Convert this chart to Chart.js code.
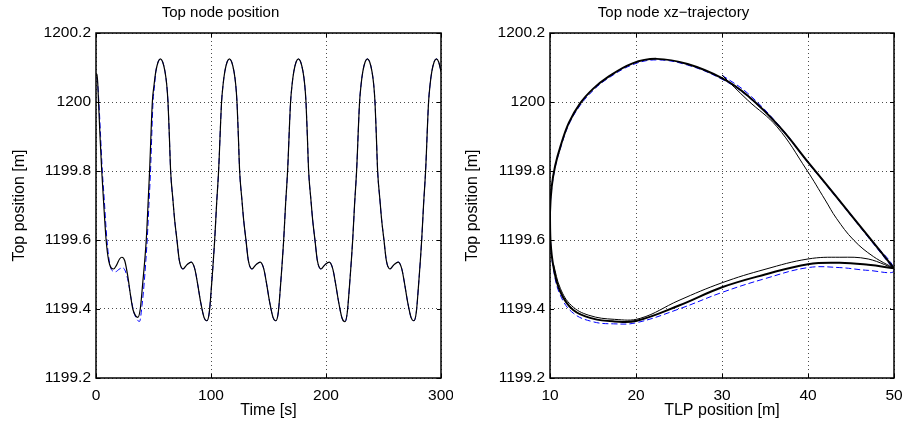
<!DOCTYPE html>
<html>
<head>
<meta charset="utf-8">
<script src="https://cdn.jsdelivr.net/npm/chart.js@4"></script>
<style>
  body { margin: 0; background: #fff; }
  #wrap { position: relative; width: 907px; height: 431px; }
  #wrap canvas { position: absolute; top: 0; }
</style>
</head>
<body>
<div id="wrap">
  <canvas id="posicao" width="453" height="431" style="left:0px"></canvas>
  <canvas id="trajetoria" width="454" height="431" style="left:453px"></canvas>
</div>
<script>
//Ticks dos eixos
const yTicks = [1199.2, 1199.4, 1199.6, 1199.8, 1200, 1200.2]
const timeTicks = [0, 100, 200, 300]
const tlpTicks = [10, 20, 30, 40, 50]

//Top node position - simulado (linha preta)
const timeS = [0, 1, 2.2, 3.5, 5, 6.5, 8.8, 11, 13, 15.2, 18, 20.5, 22.5, 25, 27.7, 30, 32, 34.5, 36.4, 38.5, 40.5, 43.7, 45.2, 46.6, 49, 50.5, 52, 54, 56,
    58, 60, 61.5, 62.6, 63.8, 64.9, 66.9, 68.4, 70.4, 72.5, 75.6, 79, 82.9, 86, 88.5, 91, 94, 96.5, 98.5, 100.5, 103.2, 104.8, 106.6, 109.2, 110.5, 112, 114, 116,
    118, 120, 121.5, 122.6, 123.8, 124.9, 126.9, 128.4, 130.4, 132.5, 135.6, 139, 142.9, 146, 148.5, 151, 154, 156.5, 158.5, 160.5, 163.2, 164.8, 166.6, 169.2, 170.5, 172, 174, 176,
    178, 180, 181.5, 182.6, 183.8, 184.9, 186.9, 188.4, 190.4, 192.5, 195.6, 199, 202.9, 206, 208.5, 211, 214, 216.5, 218.5, 220.5, 223.2, 224.8, 226.6, 229.2, 230.5, 232, 234, 236,
    238, 240, 241.5, 242.6, 243.8, 244.9, 246.9, 248.4, 250.4, 252.5, 255.6, 259, 262.9, 266, 268.5, 271, 274, 276.5, 278.5, 280.5, 283.2, 284.8, 286.6, 289.2, 290.5, 292, 294, 296,
    298, 300]
const topZ = [1200.075, 1200.08, 1200.0, 1199.9, 1199.8, 1199.716, 1199.6, 1199.54, 1199.52, 1199.516, 1199.528, 1199.545, 1199.55, 1199.54, 1199.494, 1199.44, 1199.40, 1199.38, 1199.376, 1199.40, 1199.47, 1199.6, 1199.7, 1199.8, 1200.0, 1200.05, 1200.088, 1200.116, 1200.125,
    1200.116, 1200.088, 1200.05, 1200.0, 1199.9, 1199.8, 1199.716, 1199.658, 1199.6, 1199.54, 1199.516, 1199.528, 1199.536, 1199.515, 1199.47, 1199.42, 1199.375, 1199.366, 1199.39, 1199.47, 1199.6, 1199.7, 1199.8, 1200.0, 1200.05, 1200.088, 1200.116, 1200.125,
    1200.116, 1200.088, 1200.05, 1200.0, 1199.9, 1199.8, 1199.716, 1199.658, 1199.6, 1199.54, 1199.516, 1199.528, 1199.536, 1199.515, 1199.47, 1199.42, 1199.375, 1199.366, 1199.39, 1199.47, 1199.6, 1199.7, 1199.8, 1200.0, 1200.05, 1200.088, 1200.116, 1200.125,
    1200.116, 1200.088, 1200.05, 1200.0, 1199.9, 1199.8, 1199.716, 1199.658, 1199.6, 1199.54, 1199.516, 1199.528, 1199.536, 1199.515, 1199.47, 1199.42, 1199.373, 1199.363, 1199.39, 1199.47, 1199.6, 1199.7, 1199.8, 1200.0, 1200.05, 1200.088, 1200.116, 1200.125,
    1200.116, 1200.088, 1200.05, 1200.0, 1199.9, 1199.8, 1199.716, 1199.658, 1199.6, 1199.54, 1199.516, 1199.528, 1199.536, 1199.515, 1199.47, 1199.42, 1199.375, 1199.366, 1199.39, 1199.47, 1199.6, 1199.7, 1199.8, 1200.0, 1200.05, 1200.088, 1200.116, 1200.125,
    1200.116, 1200.088]

//Referência (tracejado azul) - só o início difere, depois de t=52 é igual à preta
const refTimeS = [0, 1, 2.5, 4, 5.5, 7.2, 9.5, 12, 14.5, 17, 20, 23, 25.5, 28, 30.5, 33, 36, 37.9, 40, 42, 44.5, 46, 47.4, 49.6, 51]
const refTopZ = [1200.07, 1200.065, 1200.0, 1199.9, 1199.8, 1199.716, 1199.6, 1199.53, 1199.51, 1199.508, 1199.515, 1199.52, 1199.51, 1199.48, 1199.43, 1199.39, 1199.368, 1199.364, 1199.41, 1199.48, 1199.6, 1199.7, 1199.8, 1200.0, 1200.05]

//Trajetória xz - ciclo permanente (preto grosso)
const loopX = [50, 47, 43.7, 40, 35, 30, 25, 20.1, 17.5, 15, 12.7, 11.2, 10.4, 10.05, 10, 10.2, 10.6, 11.2, 12.2, 13.5, 15, 16.6, 19.6, 22.4, 26, 30, 33, 36.7, 40, 43.5, 47, 50]
const loopZ = [1199.518, 1199.528, 1199.534, 1199.53, 1199.5, 1199.463, 1199.41, 1199.366, 1199.364, 1199.372, 1199.397, 1199.45, 1199.523, 1199.6, 1199.68, 1199.755, 1199.815, 1199.87, 1199.94, 1199.996, 1200.038, 1200.07, 1200.112, 1200.125, 1200.11, 1200.069, 1200.018, 1199.928, 1199.826, 1199.719, 1199.611, 1199.518]

//Transiente inicial (preto fino)
const transX = [30, 33, 36.4, 39.85, 42, 43.3, 45.3, 47.6, 50, 47, 43.7, 40, 35, 30, 25, 20.5, 17.5, 14.5, 12.5, 11.2, 10.4]
const transZ = [1200.078, 1200.005, 1199.928, 1199.803, 1199.716, 1199.663, 1199.6, 1199.552, 1199.518, 1199.545, 1199.55, 1199.545, 1199.515, 1199.476, 1199.425, 1199.373, 1199.37, 1199.382, 1199.41, 1199.46, 1199.53]

//Referência xz (tracejado azul)
const refX = [30, 33, 36.7, 40, 43.5, 47, 50, 47, 43.7, 40, 35, 30, 25, 20, 17.4, 15, 12.7, 11.2, 10.4, 10.05, 10, 10.2, 10.6, 11.2, 12.2, 13.5, 15, 16.6, 19.6, 22.4, 26, 30, 33, 36.7, 40, 43.5, 47, 50]
const refZ = [1200.078, 1200.025, 1199.93, 1199.826, 1199.72, 1199.61, 1199.512, 1199.512, 1199.52, 1199.52, 1199.488, 1199.448, 1199.4, 1199.36, 1199.357, 1199.363, 1199.388, 1199.44, 1199.515, 1199.6, 1199.68, 1199.75, 1199.81, 1199.865, 1199.935, 1199.99, 1200.033, 1200.066, 1200.108, 1200.122, 1200.107, 1200.066, 1200.016, 1199.926, 1199.824, 1199.717, 1199.608, 1199.514]

const pares = (xs, ys) => xs.map((v, i) => ({ x: v, y: ys[i] }))

const fonte = "'Liberation Sans', Arial, Helvetica, sans-serif"
Chart.defaults.font.family = fonte
Chart.defaults.color = '#000'

//Moldura + marcas de tick para dentro (estilo matlab)
const moldura = {
    id: 'moldura',
    afterDatasetsDraw(chart) {
        const { ctx, chartArea: a, scales } = chart
        ctx.save()
        ctx.strokeStyle = '#000'
        ctx.lineWidth = 1
        scales.x.ticks.forEach(t => {
            const px = Math.round(scales.x.getPixelForValue(t.value)) + 0.5
            ctx.beginPath()
            ctx.moveTo(px, a.bottom); ctx.lineTo(px, a.bottom - 4)
            ctx.moveTo(px, a.top); ctx.lineTo(px, a.top + 4)
            ctx.stroke()
        })
        scales.y.ticks.forEach(t => {
            const py = Math.round(scales.y.getPixelForValue(t.value)) + 0.5
            ctx.beginPath()
            ctx.moveTo(a.left, py); ctx.lineTo(a.left + 4, py)
            ctx.moveTo(a.right, py); ctx.lineTo(a.right - 4, py)
            ctx.stroke()
        })
        ctx.lineWidth = 1.5
        ctx.strokeRect(a.left, a.top, a.right - a.left, a.bottom - a.top)
        ctx.restore()
    }
}

function eixos(xTicks, xMin, xMax, xTitulo, yLargura) {
    const grade = { color: 'rgba(0,0,0,0.7)', lineWidth: 1, drawTicks: false }
    return {
        x: {
            type: 'linear', min: xMin, max: xMax,
            grid: grade,
            border: { display: false, dash: [1, 3] },
            afterBuildTicks: s => { s.ticks = xTicks.map(v => ({ value: v })) },
            afterFit: s => { s.height = 53; s.paddingLeft = 0; s.paddingRight = 0 },
            ticks: { padding: 8, maxRotation: 0, font: { size: 15.5 }, callback: v => String(v) },
            title: { display: true, text: xTitulo, font: { size: 16 }, padding: { top: 0, bottom: 11 } }
        },
        y: {
            type: 'linear', min: 1199.2, max: 1200.2,
            grid: grade,
            border: { display: false, dash: [1, 3] },
            afterBuildTicks: s => { s.ticks = yTicks.map(v => ({ value: v })) },
            afterFit: s => { s.width = yLargura; s.paddingTop = 0; s.paddingBottom = 0 },
            ticks: { padding: 5, font: { size: 15.5 }, callback: v => String(Number(v.toFixed(1))) },
            title: { display: true, text: 'Top position [m]', font: { size: 16 }, padding: { top: 10, bottom: 0 } }
        }
    }
}

function titulo(texto) {
    return { display: true, text: texto, color: '#000', font: { size: 15, weight: 'normal' }, padding: { top: 4, bottom: 11 } }
}

//Gráfico da esquerda - posição no tempo
const ctxPos = document.getElementById('posicao')
const graficoPos = new Chart(ctxPos, {
    type: 'line',
    data: {
        datasets: [{
            data: pares(timeS, topZ),
            borderColor: '#000',
            borderWidth: 1.2,
            pointRadius: 0,
            cubicInterpolationMode: 'monotone'
        }, {
            data: pares(refTimeS, refTopZ).concat(pares(timeS, topZ).filter(p => p.x >= 52)),
            borderColor: '#0000ff',
            borderWidth: 1,
            borderDash: [6, 3],
            pointRadius: 0,
            cubicInterpolationMode: 'monotone'
        }]
    },
    options: {
        responsive: false,
        animation: false,
        layout: { padding: { left: 0, right: 12, top: 0, bottom: 0 } },
        plugins: { legend: { display: false }, tooltip: { enabled: false }, title: titulo('Top node position') },
        scales: eixos(timeTicks, 0, 300, 'Time [s]', 96)
    },
    plugins: [moldura]
})

//Gráfico da direita - trajetória xz
const ctxTraj = document.getElementById('trajetoria')
const graficoTraj = new Chart(ctxTraj, {
    type: 'scatter',
    data: {
        datasets: [{
            data: pares(loopX, loopZ),
            showLine: true,
            borderColor: '#000',
            borderWidth: 2,
            pointRadius: 0,
            tension: 0.4
        }, {
            data: pares(transX, transZ),
            showLine: true,
            borderColor: '#000',
            borderWidth: 1,
            pointRadius: 0,
            tension: 0.4
        }, {
            data: pares(refX, refZ),
            showLine: true,
            borderColor: '#0000ff',
            borderWidth: 1,
            borderDash: [6, 3],
            pointRadius: 0,
            tension: 0.4
        }]
    },
    options: {
        responsive: false,
        animation: false,
        layout: { padding: { left: 0, right: 13, top: 0, bottom: 0 } },
        plugins: { legend: { display: false }, tooltip: { enabled: false }, title: titulo('Top node xz\u2212trajectory') },
        scales: eixos(tlpTicks, 10, 50, 'TLP position [m]', 97)
    },
    plugins: [moldura]
})
</script>
</body>
</html>
